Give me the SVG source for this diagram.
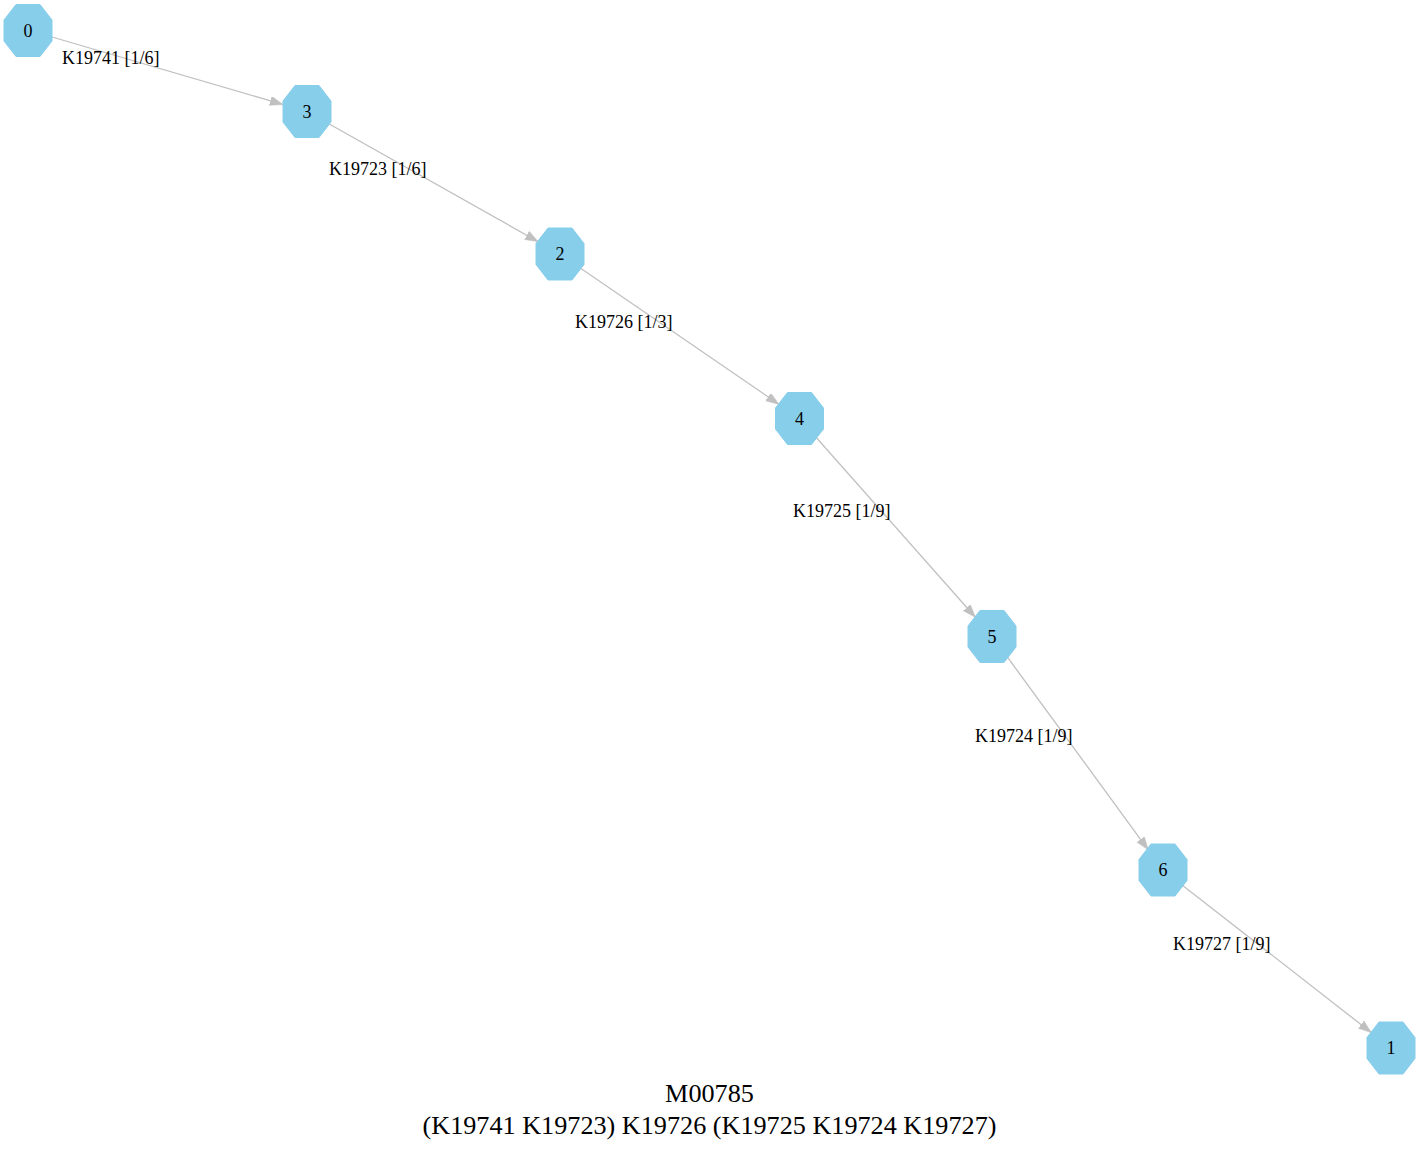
<svg xmlns="http://www.w3.org/2000/svg" width="1420" height="1150" viewBox="0 0 1420 1150">
<style>
.node polygon{fill:#87ceeb;stroke:#87ceeb;stroke-width:1}
.node text{font-family:"Liberation Serif","Times New Roman",serif;font-size:18px;fill:#000;text-anchor:middle}
.edge line{stroke:#c0c0c0;stroke-width:1.3;marker-end:url(#arr)}
.elabel{font-family:"Liberation Serif","Times New Roman",serif;font-size:18px;fill:#000}
.title{font-family:"Liberation Serif","Times New Roman",serif;font-size:26.2px;fill:#000;text-anchor:middle}
</style>
<defs>
<marker id="arr" markerUnits="userSpaceOnUse" markerWidth="14" markerHeight="10" refX="13" refY="4.7" orient="auto">
<path d="M0,0 L13,4.7 L0,9.4 z" fill="#c0c0c0" stroke="#c0c0c0" stroke-width="0.5"/>
</marker>
<polygon id="oct" points="-12,-26 12,-26 24,-10.5 24,10.5 12,26 -12,26 -24,10.5 -24,-10.5"/>
</defs>
<rect width="1420" height="1150" fill="#fff"/>
<g id="edges" class="edge">
<line x1="52" y1="37" x2="283" y2="104.5"/>
<line x1="328.8" y1="123.8" x2="538.2" y2="241.7"/>
<line x1="580.6" y1="268.2" x2="778.9" y2="404.3"/>
<line x1="816" y1="437.2" x2="975.4" y2="617.3"/>
<line x1="1006.8" y1="656.2" x2="1148.2" y2="849.8"/>
<line x1="1182.7" y1="885.4" x2="1371.3" y2="1032.6"/>
<text class="elabel" x="62" y="64">K19741 [1/6]</text>
<text class="elabel" x="329" y="175">K19723 [1/6]</text>
<text class="elabel" x="575" y="328">K19726 [1/3]</text>
<text class="elabel" x="793" y="517">K19725 [1/9]</text>
<text class="elabel" x="975" y="742">K19724 [1/9]</text>
<text class="elabel" x="1173" y="950">K19727 [1/9]</text>
</g>
<g id="node0" class="node" transform="translate(28,30.5)"><use href="#oct" fill="#87ceeb" stroke="#87ceeb"/><text y="6">0</text></g>
<g id="node3" class="node" transform="translate(307,111.5)"><use href="#oct" fill="#87ceeb" stroke="#87ceeb"/><text y="6">3</text></g>
<g id="node2" class="node" transform="translate(560,254)"><use href="#oct" fill="#87ceeb" stroke="#87ceeb"/><text y="6">2</text></g>
<g id="node4" class="node" transform="translate(799.5,418.5)"><use href="#oct" fill="#87ceeb" stroke="#87ceeb"/><text y="6">4</text></g>
<g id="node5" class="node" transform="translate(992,636.5)"><use href="#oct" fill="#87ceeb" stroke="#87ceeb"/><text y="6">5</text></g>
<g id="node6" class="node" transform="translate(1163,870)"><use href="#oct" fill="#87ceeb" stroke="#87ceeb"/><text y="6">6</text></g>
<g id="node1" class="node" transform="translate(1391,1048)"><use href="#oct" fill="#87ceeb" stroke="#87ceeb"/><text y="6">1</text></g>
<g id="title">
<text class="title" x="709.5" y="1102">M00785</text>
<text class="title" x="709.5" y="1134">(K19741 K19723) K19726 (K19725 K19724 K19727)</text>
</g>
</svg>
